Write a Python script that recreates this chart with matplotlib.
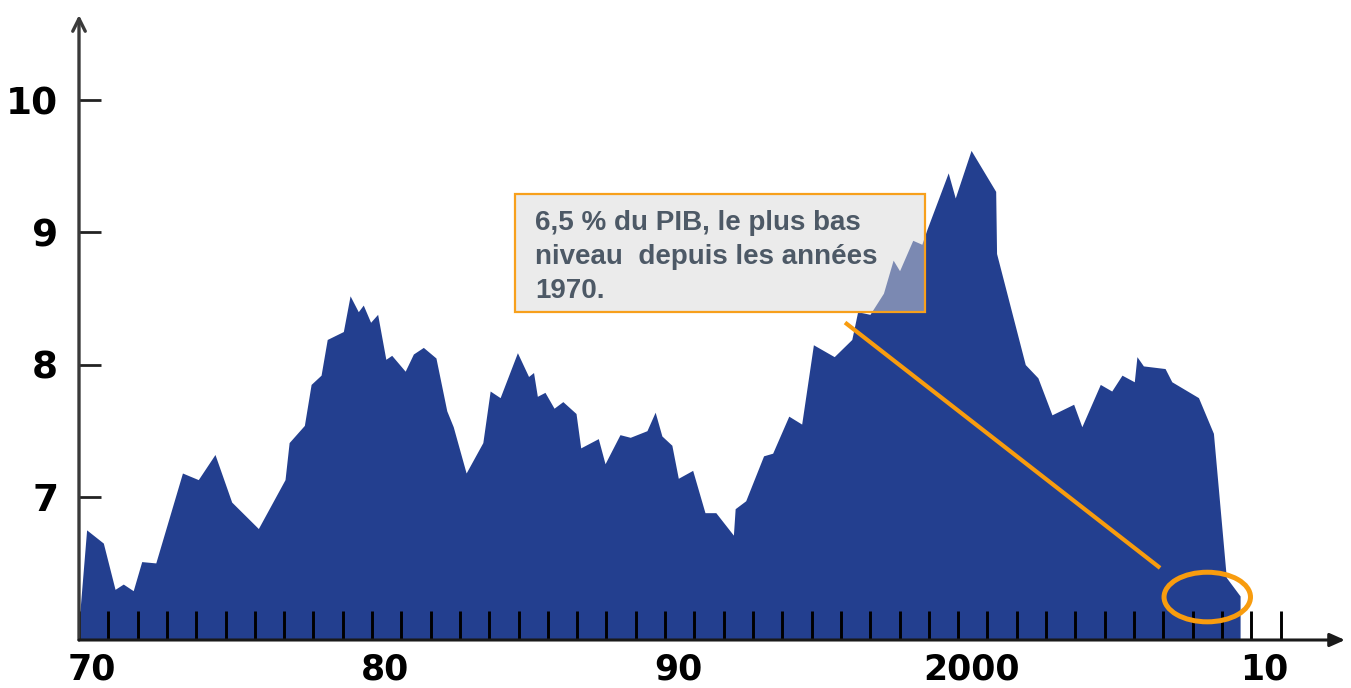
import matplotlib
matplotlib.use("Agg")
import matplotlib.pyplot as plt
from matplotlib.patches import Rectangle, Ellipse

# deficit / PIB
annees = [1970.0, 1970.26, 1970.83, 1971.23, 1971.51, 1971.85, 1972.14, 1972.62, 1973.53, 1974.07,
          1974.64, 1975.21, 1976.12, 1977.03, 1977.17, 1977.69, 1977.92, 1978.26, 1978.47, 1979.02,
          1979.25, 1979.53, 1979.70, 1979.95, 1980.19, 1980.47, 1980.67, 1981.13, 1981.41, 1981.75,
          1982.18, 1982.55, 1982.77, 1983.21, 1983.78, 1984.03, 1984.37, 1984.96, 1985.34, 1985.51,
          1985.64, 1985.90, 1986.21, 1986.51, 1986.96, 1987.12, 1987.72, 1987.95, 1988.46, 1988.81,
          1989.38, 1989.66, 1989.89, 1990.23, 1990.45, 1990.94, 1991.36, 1991.73, 1992.33, 1992.39,
          1992.75, 1993.36, 1993.67, 1994.22, 1994.66, 1995.06, 1995.77, 1996.37, 1996.57, 1996.99,
          1997.45, 1997.78, 1998.00, 1998.45, 1998.76, 1998.93, 1999.66, 1999.90, 2000.44, 2001.28,
          2001.31, 2002.29, 2002.72, 2003.20, 2003.94, 2004.22, 2004.85, 2005.24, 2005.59, 2006.01,
          2006.10, 2006.32, 2007.06, 2007.29, 2008.20, 2008.71, 2009.15, 2009.62]
valeurs = [6.05, 6.75, 6.65, 6.30, 6.34, 6.29, 6.51, 6.50, 7.18, 7.13,
           7.32, 6.96, 6.76, 7.13, 7.41, 7.54, 7.85, 7.92, 8.19, 8.25,
           8.52, 8.40, 8.45, 8.32, 8.38, 8.04, 8.07, 7.95, 8.08, 8.13,
           8.05, 7.65, 7.53, 7.18, 7.41, 7.80, 7.75, 8.09, 7.91, 7.94,
           7.76, 7.79, 7.67, 7.72, 7.63, 7.37, 7.44, 7.25, 7.47, 7.45,
           7.50, 7.64, 7.46, 7.39, 7.14, 7.20, 6.88, 6.88, 6.71, 6.91,
           6.97, 7.31, 7.33, 7.61, 7.55, 8.15, 8.06, 8.19, 8.40, 8.38,
           8.54, 8.79, 8.71, 8.94, 8.91, 9.02, 9.45, 9.26, 9.62, 9.31,
           8.84, 8.00, 7.90, 7.62, 7.70, 7.53, 7.85, 7.80, 7.92, 7.87,
           8.06, 7.99, 7.97, 7.87, 7.75, 7.48, 6.39, 6.25]

yticks = [7, 8, 9, 10]
xlabels = ["70", "80", "90", "2000", "10"]
xlabel_pos = [1970, 1980, 1990, 2000, 2010]
texte = "6,5 % du PIB, le plus bas\nniveau  depuis les années\n1970."

ymin, ymax = 5.917, 10.644
xmin, xmax = 1970, 2013.2

bleu = "#233f8f"
orange = "#f89c0e"

fig = plt.figure(figsize=(13.51, 6.88), dpi=100)
ax = fig.add_axes([79/1351, 48/688, 1266/1351, 625/688])
ax.set_xlim(xmin, xmax)
ax.set_ylim(ymin, ymax)

ax.fill_between(annees, valeurs, ymin, color=bleu, lw=0)

for s in ax.spines.values():
    s.set_visible(False)

# axes avec fleches
ax.annotate("", xy=(0, 1), xytext=(0, 0), xycoords="axes fraction",
            arrowprops=dict(arrowstyle="->,head_length=0.9,head_width=0.45", lw=2.4, color="#3a3a3a",
                            shrinkA=0, shrinkB=0))
ax.annotate("", xy=(1, 0), xytext=(0, 0), xycoords="axes fraction",
            arrowprops=dict(arrowstyle="-|>,head_length=0.9,head_width=0.4", lw=2.2, color="#1a1a1a",
                            shrinkA=0, shrinkB=0))

ax.set_xticks(range(1970, 2012))
ax.set_xticklabels([])
ax.tick_params(axis="x", direction="in", length=21, width=2.1, color="black")

ax.set_yticks(yticks)
ax.set_yticklabels([str(v) for v in yticks], fontsize=27, fontweight="bold", family="DejaVu Sans")
ax.tick_params(axis="y", direction="in", length=16, width=2, color="#222222", pad=15)

for lab, pos in zip(xlabels, xlabel_pos):
    ax.text(pos + 0.45, ymin - 0.22, lab, ha="center", va="center", fontsize=25,
            fontweight="bold", family="DejaVu Sans", clip_on=False)

# encadre
boite = Rectangle((1984.88, 8.394), 13.99, 0.894, facecolor=(216/255, 216/255, 216/255, 0.49),
                  edgecolor="#f7a01c", lw=1.6, zorder=3)
ax.add_patch(boite)
ax.text(1985.56, 9.17, texte, ha="left", va="top", fontsize=20, fontweight="bold",
        family="Liberation Sans", color="#4d5966", linespacing=1.4, zorder=4)

ax.plot([1996.14, 2006.89], [8.318, 6.462], color=orange, lw=3, solid_capstyle="butt", zorder=4)
ax.add_patch(Ellipse((2008.5, 6.242), 2.95, 0.375, fill=False, edgecolor=orange, lw=3.6,
                     zorder=4, clip_on=False))

fig.savefig("out.png", dpi=100)
